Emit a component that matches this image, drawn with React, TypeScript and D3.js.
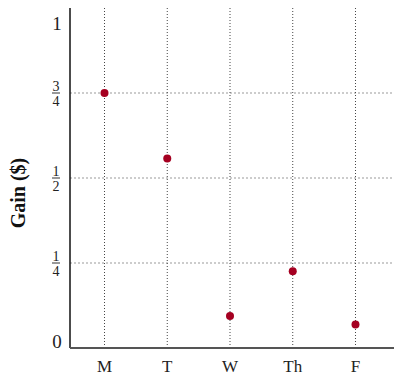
import React from "react";
import * as d3 from "d3";

const days = ["M", "T", "W", "Th", "F"];
const gains = [0.75, 0.557, 0.094, 0.226, 0.069];
const yTicks = [0, 0.25, 0.5, 0.75, 1];
const yTickNum = ["0", "1", "1", "3", "1"];
const yTickDen = ["", "4", "2", "4", ""];

export default function App() {
  const W = 394, H = 375;
  const left = 70, right = 394, top = 8, bottom = 348;
  const x = d3.scalePoint<string>().domain(days).range([70, 390]).padding(0.55);
  const y = d3.scaleLinear().domain([0, 1]).range([bottom, top]);
  const font = "Liberation Serif, DejaVu Serif, serif";
  return (
    <svg width={W} height={H} style={{ position: "absolute", left: 0, top: 0, fontFamily: font }}>
      {yTicks.filter(t => t > 0 && t < 1).map(t => (
        <line key={"h" + t} x1={left} x2={right} y1={y(t)} y2={y(t)} stroke="#999" strokeWidth={1} strokeDasharray="2,2" />
      ))}
      {days.map(d => (
        <line key={"v" + d} x1={x(d)!} x2={x(d)!} y1={top} y2={bottom} stroke="#444" strokeWidth={1} strokeDasharray="1,2" />
      ))}
      <line x1={left} x2={left} y1={top} y2={bottom} stroke="#111" strokeWidth={1.5} />
      <line x1={left} x2={right} y1={bottom} y2={bottom} stroke="#555" strokeWidth={2} />
      {yTicks.map((t, i) => {
        const cx = 56;
        if (!yTickDen[i]) {
          const isTop = t === 1;
          return (
            <text key={"yt" + t} x={cx + 1} y={isTop ? y(t) + 22 : y(t)} textAnchor="middle" fontSize={19} fill="#222" style={{ fontFamily: font }}>
              {yTickNum[i]}
            </text>
          );
        }
        return (
          <g key={"yt" + t} fill="#222">
            <text x={cx} y={y(t) - 2} textAnchor="middle" fontSize={14} style={{ fontFamily: font }}>{yTickNum[i]}</text>
            <line x1={cx - 4} x2={cx + 4} y1={y(t)} y2={y(t)} stroke="#333" strokeWidth={1} />
            <text x={cx} y={y(t) + 13} textAnchor="middle" fontSize={14} style={{ fontFamily: font }}>{yTickDen[i]}</text>
          </g>
        );
      })}
      {days.map(d => (
        <text key={"xt" + d} x={x(d)!} y={372} textAnchor="middle" fontSize={17} fill="#222" style={{ fontFamily: font }}>{d}</text>
      ))}
      <text transform={`translate(25,193) rotate(-90)`} textAnchor="middle" fontSize={20} fontWeight="bold" fill="#111" style={{ fontFamily: font }}>Gain ($)</text>
      {days.map((d, i) => (
        <circle key={"p" + d} cx={x(d)!} cy={y(gains[i])} r={4} fill="#a50021" />
      ))}
    </svg>
  );
}
